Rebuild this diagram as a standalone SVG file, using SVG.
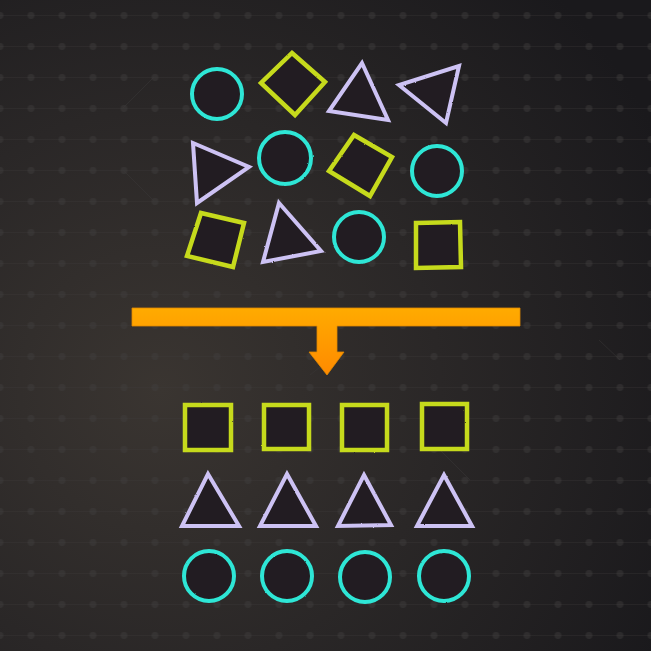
<svg xmlns="http://www.w3.org/2000/svg" width="651" height="651" viewBox="0 0 651 651">
<defs>
<radialGradient id="bg" cx="160" cy="390" r="560" gradientUnits="userSpaceOnUse">
<stop offset="0" stop-color="#3a3531"/>
<stop offset="0.5" stop-color="#2a2727"/>
<stop offset="1" stop-color="#1a191c"/>
</radialGradient>
<pattern id="grid" x="-15.5" y="0" width="31" height="31" patternUnits="userSpaceOnUse">
<line x1="0" y1="15.5" x2="31" y2="15.5" stroke="#403d3d" stroke-opacity="0.3" stroke-width="1"/>
<circle cx="15.5" cy="15.5" r="3.4" fill="#403e3f" fill-opacity="0.45"/>
</pattern>
<linearGradient id="org" x1="0" y1="308" x2="0" y2="375" gradientUnits="userSpaceOnUse">
<stop offset="0" stop-color="#ffab00"/>
<stop offset="1" stop-color="#ff8a00"/>
</linearGradient>
<filter id="chalk" x="-10%" y="-10%" width="120%" height="120%">
<feTurbulence type="fractalNoise" baseFrequency="0.9" numOctaves="2" seed="3" result="n"/>
<feDisplacementMap in="SourceGraphic" in2="n" scale="1.6" xChannelSelector="R" yChannelSelector="G"/>
</filter>
</defs>
<style>
.sq{fill:#221e20;stroke:#c6da1c;stroke-width:4.5;stroke-linejoin:miter}
.tr{fill:#221e20;stroke:#cdc2f4;stroke-width:4;stroke-linejoin:miter}
.ci{fill:#221e20;stroke:#2ee6d6;stroke-width:4}
.faint{stroke:#3a3838;stroke-opacity:0.5;stroke-width:1;fill:none}
</style>
<rect width="651" height="651" fill="url(#bg)"/>
<rect width="651" height="651" fill="url(#grid)"/>
<g class="faint">
<line x1="123" y1="108" x2="154" y2="77"/>
<line x1="123" y1="170" x2="154" y2="201"/>
<line x1="599" y1="340" x2="620" y2="360"/>
<line x1="440" y1="450" x2="470" y2="480"/>
<line x1="310" y1="375" x2="335" y2="355"/>
</g>
<g filter="url(#chalk)">
<g id="top-circle-1"><circle class="ci" cx="217" cy="94" r="25"/></g>
<g id="top-diamond-1"><polygon class="sq" points="292,53 325,82 295,115 261,83"/></g>
<g id="top-triangle-1"><polygon class="tr" points="362,63 388,120 329,111"/></g>
<g id="top-triangle-2"><polygon class="tr" points="459,66 446,123 399,85"/></g>
<g id="top-triangle-3"><polygon class="tr" points="193,143 249,167 197,203"/></g>
<g id="top-circle-2"><circle class="ci" cx="285" cy="158" r="26"/></g>
<g id="top-diamond-2"><polygon class="sq" points="354,135 392,157 370,196 329,171"/></g>
<g id="top-circle-3"><circle class="ci" cx="437" cy="171" r="25"/></g>
<g id="top-square-1"><polygon class="sq" points="201,213 244,223 233,267 187,256"/></g>
<g id="top-triangle-4"><polygon class="tr" points="279,203 321,251 263,262"/></g>
<g id="top-circle-4"><circle class="ci" cx="359" cy="237" r="25"/></g>
<g id="top-square-2"><polygon class="sq" points="416,223 460,222 461,267 416,268"/></g>

<g id="bottom-square-1"><rect class="sq" x="185" y="405" width="46" height="45"/></g>
<g id="bottom-square-2"><rect class="sq" x="264" y="405" width="45" height="44"/></g>
<g id="bottom-square-3"><rect class="sq" x="342" y="405" width="45" height="45"/></g>
<g id="bottom-square-4"><rect class="sq" x="422" y="404" width="45" height="45"/></g>
<g id="bottom-triangle-1"><polygon class="tr" points="208,474 239,526 182,526"/></g>
<g id="bottom-triangle-2"><polygon class="tr" points="287,474 316,526 260,526"/></g>
<g id="bottom-triangle-3"><polygon class="tr" points="364,475 391,525 338,526"/></g>
<g id="bottom-triangle-4"><polygon class="tr" points="444,475 472,526 417,526"/></g>
<g id="bottom-circle-1"><circle class="ci" cx="209" cy="576" r="25"/></g>
<g id="bottom-circle-2"><circle class="ci" cx="287" cy="576" r="25"/></g>
<g id="bottom-circle-3"><circle class="ci" cx="365" cy="577" r="25"/></g>
<g id="bottom-circle-4"><circle class="ci" cx="444" cy="576" r="25"/></g>
</g>
<g id="connectors">
<path d="M132,308 H520 V326 H337 V352 H344 L327,375 L309,352 H317 V326 H132 Z" fill="url(#org)" stroke="#e08800" stroke-width="0.8"/>
</g>
</svg>
